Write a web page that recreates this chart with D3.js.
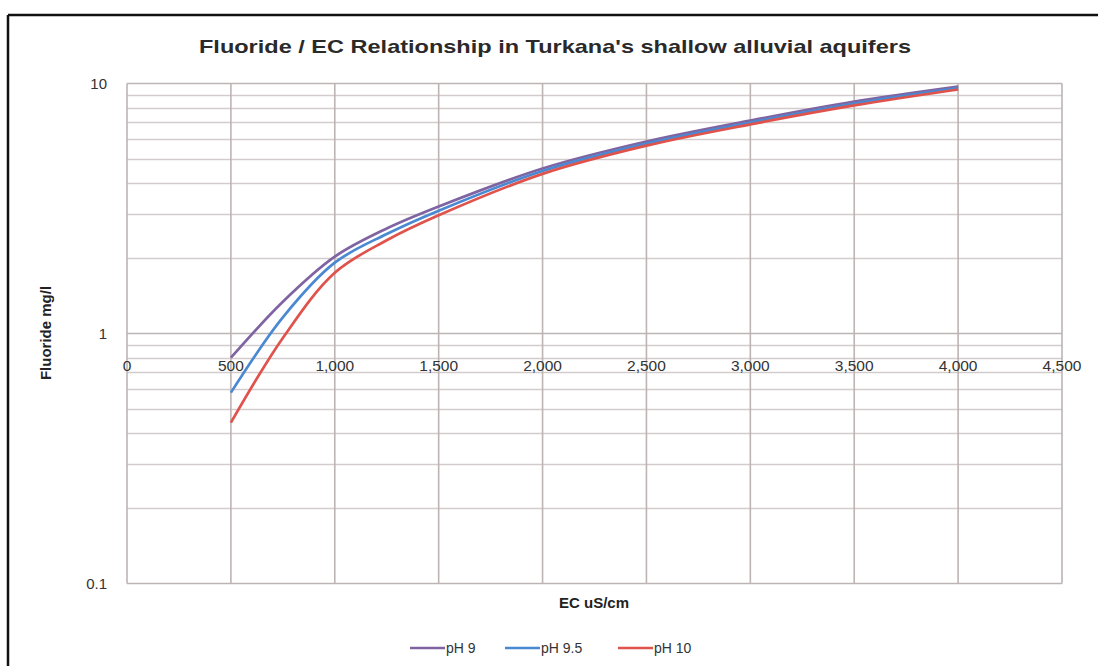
<!DOCTYPE html>
<html>
<head>
<meta charset="utf-8">
<script src="https://cdn.jsdelivr.net/npm/d3@7"></script>
<style>
  html, body { margin: 0; padding: 0; background: #fff; }
  svg { display: block; }
</style>
</head>
<body>
<svg id="chart" width="1098" height="666"></svg>
<script>
// ---- data ----
const ecValues = [500, 750, 1000, 1250, 1500, 2000, 2500, 3000, 3500, 4000];
const seriesNames = ["pH 9", "pH 9.5", "pH 10"];
const ph9  = [0.80, 1.34, 2.03, 2.63, 3.22, 4.57, 5.86, 7.11, 8.47, 9.73];
const ph95 = [0.58, 1.16, 1.92, 2.50, 3.10, 4.47, 5.75, 6.98, 8.32, 9.59];
const ph10 = [0.44, 0.96, 1.75, 2.36, 2.97, 4.35, 5.64, 6.86, 8.17, 9.46];
const xTicks = [0, 500, 1000, 1500, 2000, 2500, 3000, 3500, 4000, 4500];
const yTicks = [0.1, 1, 10];
const yTickLabels = ["0.1", "1", "10"];
const colors = ["#8064A2", "#4A89D2", "#E0534C"];
const titleText = "Fluoride / EC Relationship in Turkana's shallow alluvial aquifers";
const xTitle = "EC uS/cm";
const yTitle = "Fluoride mg/l";

(function () {
const svg = d3.select("#chart");
const font = "'Liberation Sans', Arial, sans-serif";

// frame
svg.append("line").attr("x1", 8).attr("x2", 1098).attr("y1", 15).attr("y2", 15)
  .attr("stroke", "#111").attr("stroke-width", 2.5);
svg.append("line").attr("x1", 8).attr("x2", 8).attr("y1", 15).attr("y2", 666)
  .attr("stroke", "#111").attr("stroke-width", 2.5);

const pLeft = 127, pRight = 1062, pTop = 83.5, pBottom = 583.5;
const x = d3.scaleLinear().domain([0, 4500]).range([pLeft, pRight]);
const y = d3.scaleLog().domain([0.1, 10]).range([pBottom, pTop]);

// minor horizontal gridlines
const minor = [];
[0.1, 1].forEach(d => { for (let k = 2; k <= 9; k++) minor.push(d * k); });
svg.append("g").selectAll("line").data(minor).join("line")
  .attr("x1", pLeft).attr("x2", pRight)
  .attr("y1", d => Math.round(y(d)) + 0.5).attr("y2", d => Math.round(y(d)) + 0.5)
  .attr("stroke", "#d3cccc").attr("stroke-width", 1.3);

// vertical gridlines
svg.append("g").selectAll("line").data(xTicks).join("line")
  .attr("x1", d => x(d)).attr("x2", d => x(d))
  .attr("y1", pTop).attr("y2", pBottom)
  .attr("stroke", "#bdb4b4").attr("stroke-width", 1.6);

// major horizontal gridlines
svg.append("g").selectAll("line").data(yTicks).join("line")
  .attr("x1", pLeft).attr("x2", pRight)
  .attr("y1", d => y(d)).attr("y2", d => y(d))
  .attr("stroke", "#bdb4b4").attr("stroke-width", 1.6);

// y tick labels
svg.append("g").selectAll("text").data(yTicks).join("text")
  .attr("x", 107).attr("y", d => y(d) + 2)
  .attr("text-anchor", "end").attr("dominant-baseline", "middle")
  .attr("font-family", font).attr("font-size", 15).attr("fill", "#333")
  .text((d, i) => yTickLabels[i]);

// x tick labels (axis crosses at 1)
const fmt = d3.format(",");
svg.append("g").selectAll("text").data(xTicks).join("text")
  .attr("x", d => x(d)).attr("y", y(1) + 33)
  .attr("text-anchor", "middle").attr("dominant-baseline", "middle")
  .attr("font-family", font).attr("font-size", 15.5).attr("fill", "#333")
  .text(d => fmt(d));

// lines
const allSeries = [ph9, ph95, ph10];
const line = d3.line()
  .x((d, i) => x(ecValues[i]))
  .y(d => y(d))
  .curve(d3.curveCatmullRom.alpha(0.5));
svg.append("g").selectAll("path").data(allSeries).join("path")
  .attr("d", d => line(d))
  .attr("fill", "none")
  .attr("stroke", (d, i) => colors[i])
  .attr("stroke-width", 2.7)
  .attr("stroke-linejoin", "round");

// title
svg.append("text").attr("x", 555).attr("y", 53)
  .attr("text-anchor", "middle")
  .attr("font-family", font).attr("font-size", 18.5).attr("font-weight", "bold")
  .attr("fill", "#2a2a2a")
  .attr("textLength", 712).attr("lengthAdjust", "spacingAndGlyphs")
  .text(titleText);

// axis titles
svg.append("text").attr("x", 594).attr("y", 608)
  .attr("text-anchor", "middle")
  .attr("font-family", font).attr("font-size", 15).attr("font-weight", "bold")
  .attr("fill", "#222").text(xTitle);

svg.append("text")
  .attr("transform", "translate(51,333) rotate(-90)")
  .attr("text-anchor", "middle")
  .attr("font-family", font).attr("font-size", 15).attr("font-weight", "bold")
  .attr("fill", "#222").text(yTitle);

// legend
const legendX = [410, 505, 618];
const lg = svg.append("g").selectAll("g").data(seriesNames).join("g")
  .attr("transform", (d, i) => `translate(${legendX[i]},648)`);
lg.append("line").attr("x1", 0).attr("x2", 35).attr("y1", 0).attr("y2", 0)
  .attr("stroke", (d, i) => colors[i]).attr("stroke-width", 2.6);
lg.append("text").attr("x", 36).attr("y", 1)
  .attr("dominant-baseline", "middle")
  .attr("font-family", font).attr("font-size", 14).attr("fill", "#333")
  .text(d => d);
})();
</script>
</body>
</html>
